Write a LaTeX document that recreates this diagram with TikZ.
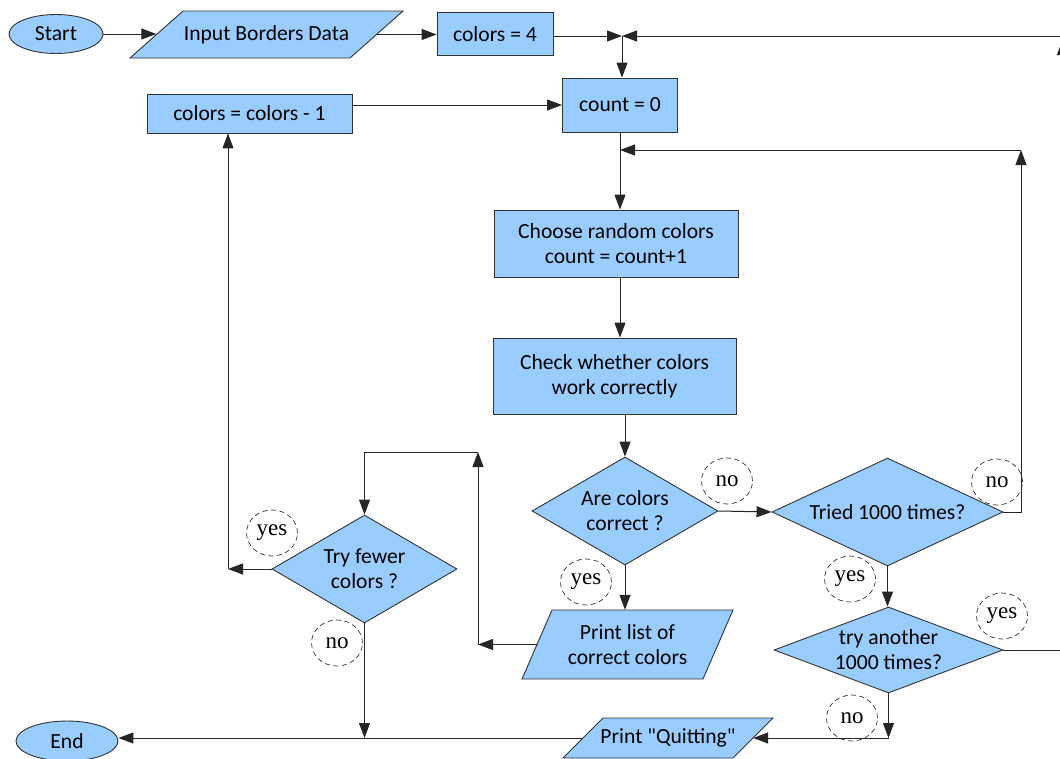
\documentclass[tikz,border=0pt]{standalone}
\usepackage{fontspec}
\setmainfont{Carlito}[Ligatures=TeXOff]
\newfontfamily\boxfont{Carlito}[Ligatures=TeXOff]
\newfontfamily\lblfont{Liberation Serif}
\usetikzlibrary{shapes.geometric,arrows.meta}
\definecolor{boxblue}{HTML}{99CCFF}
\definecolor{edgecol}{HTML}{333333}
\newcommand\paranode[7]{%
  \path[draw=edgecol,fill=boxblue,line width=0.9pt]
    ({#2-#4/2+#6/2},{#3-#5/2}) -- ({#2+#4/2+#6/2},{#3-#5/2}) --
    ({#2+#4/2-#6/2},{#3+#5/2}) -- ({#2-#4/2-#6/2},{#3+#5/2}) -- cycle;
  \node[txt,minimum width=#4pt,minimum height=#5pt] (#1) at (#2,#3) {#7};}
\begin{document}
\begin{tikzpicture}[x=1pt,y=-1pt,
  txt/.style={font=\boxfont\fontsize{21.6}{25}\selectfont, align=center, inner sep=0pt, text=black},
  proc/.style={txt, rectangle, draw=edgecol, fill=boxblue, line width=0.9pt},
  term/.style={txt, ellipse, draw=edgecol, fill=boxblue, line width=0.9pt},
  dec/.style={txt, diamond, draw=edgecol, fill=boxblue, line width=0.9pt},
  lbl/.style={ellipse, draw=black!80, dash pattern=on 5pt off 3.5pt, line width=0.7pt,
    minimum width=51pt, minimum height=46pt, inner sep=0pt,
    font=\lblfont\fontsize{23}{23}\selectfont},
  arr/.style={draw=black!85, line width=1pt, -{Triangle[length=15pt,width=11pt]}},
  ln/.style={draw=black!85, line width=1pt}]
\path[use as bounding box] (0,0) rectangle (1060,758);
\clip (0,0) rectangle (1060,758);

% nodes
\node[term, minimum width=94pt, minimum height=39pt] (start) at (56,34) {Start};
\paranode{inp}{266.5}{34.5}{220}{47}{53}{Input Borders Data}
\node[proc, minimum width=116pt, minimum height=43pt] (c4) at (495,34) {colors = 4};
\node[proc, minimum width=115pt, minimum height=54pt] (count) at (620,105) {count = 0};
\node[proc, minimum width=205pt, minimum height=39pt] (c1) at (249.5,113.5) {colors = colors - 1};
\node[proc, minimum width=244pt, minimum height=67pt] (choose) at (616,243.5) {Choose random colors\\count = count+1};
\node[proc, minimum width=243pt, minimum height=76pt] (check) at (614.5,376) {Check whether colors\\work correctly};
\node[dec, aspect=1.72, minimum width=186pt, minimum height=108pt] (are) at (625,511) {Are colors\\correct ?};
\node[dec, aspect=2.14, minimum width=231pt, minimum height=108pt] (tried) at (887.5,512) {Tried 1000 times?};
\node[dec, aspect=2.66, minimum width=229pt, minimum height=86pt] (another) at (888.5,650) {try another\\1000 times?};
\node[dec, aspect=1.71, minimum width=185pt, minimum height=108pt] (fewer) at (364.5,569) {Try fewer\\colors ?};
\paranode{plist}{627.5}{644.5}{181}{69}{30}{Print list of\\correct colors}
\paranode{quit}{668}{738}{170}{40}{40}{Print "Quitting"}
\node[term, minimum width=102pt, minimum height=40pt] (end) at (67,741) {End};

% helper coordinates
\coordinate (m) at (622,36);
\coordinate (rtop) at (1070,36);
\coordinate (rx) at (1062.5,40);
\coordinate (loop) at (1021,150);
\coordinate (pt) at (478,452);
\coordinate (fy) at (228,569);

% connectors
\draw[arr] (start.east) -- (start.east -| inp.west);
\draw[arr] (inp.east) -- (inp.east -| c4.west);
\draw[arr] (c4.east |- m) -- (m);
\draw[arr] (rtop) -- (m);
\draw[arr] (m) -- (m |- count.north);
\draw[arr] (c1.east |- count.west) -- (count.west);
\draw[arr] (count.south) -- (count.south |- choose.north);
\draw[arr] (tried.east) -| (loop);
\draw[arr] (loop) -- (loop -| count.south);
\draw[arr] (count.south |- choose.south) -- (count.south |- check.north);
\draw[arr] (are.north |- check.south) -- (are.north);
\draw[arr] (are.east) -- (tried.west);
\draw[arr] (are.south) -- (are.south |- plist.north);
\draw[arr] (plist.west) -- (plist.west -| pt);
\draw[arr] (plist.west -| pt) -- (pt);
\draw[arr] (pt) -| (fewer.north);
\draw[arr] (fewer.west) -- (fy);
\draw[arr] (fy) -- (fy |- c1.south);
\draw[arr] (fewer.south) -- (fewer.south |- quit.west);
\draw[arr] (quit.west) -- (quit.west -| end.east);
\draw[arr] (tried.south) -- (tried.south |- another.north);
\draw[arr] (another.south) -- (another.south |- quit.east);
\draw[arr] (another.south |- quit.east) -- (quit.east);
\draw[ln] (another.east) -- (another.east -| rx);
\draw[arr] (another.east -| rx) -- (rx);

% branch labels
\node[lbl] (n1) at (727,481) {no};
\node[lbl] (y1) at (586,582) {yes};
\node[lbl] (y2) at (272,533) {yes};
\node[lbl] (n2) at (337,643) {no};
\node[lbl] (n3) at (997,482) {no};
\node[lbl] (y3) at (850,579) {yes};
\node[lbl] (y4) at (1002,616) {yes};
\node[lbl] (n4) at (852,718) {no};
\end{tikzpicture}
\end{document}
